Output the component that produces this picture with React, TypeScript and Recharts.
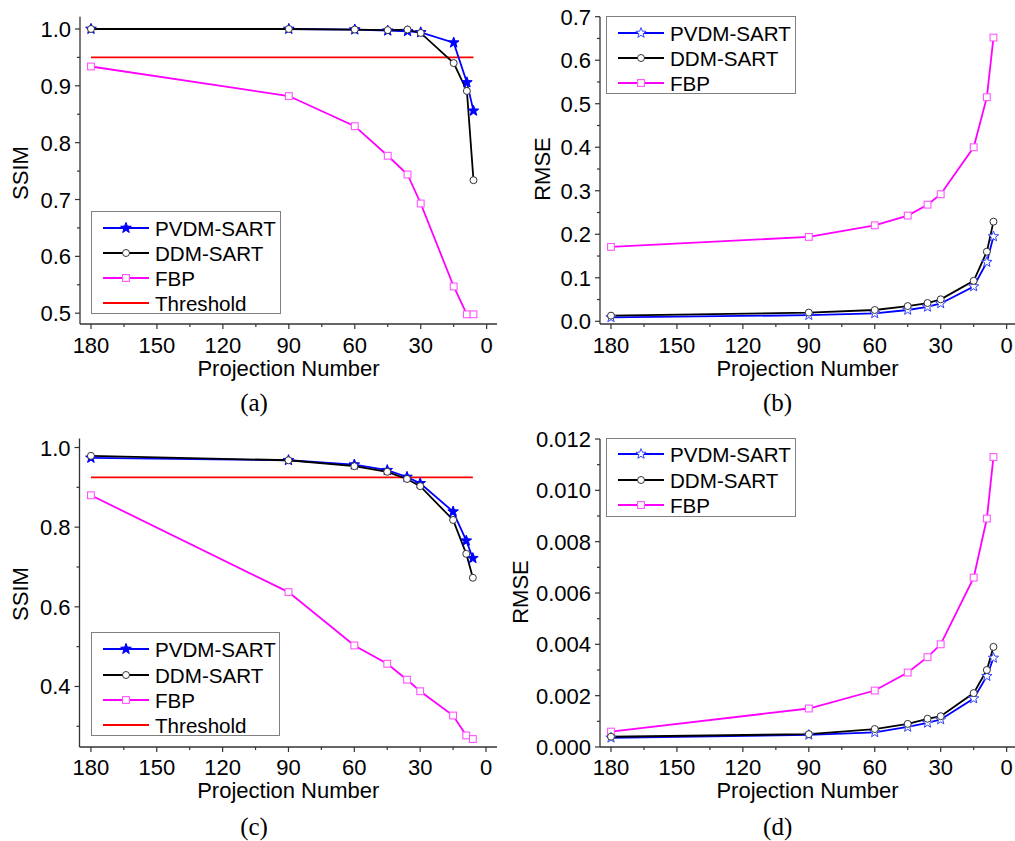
import { LineChart, Line, XAxis, YAxis } from "recharts";

const projections = [180, 90, 60, 45, 36, 30, 15, 9, 6];

// (a) SSIM
const ssimA_pvdm = [1.0, 1.0, 0.999, 0.997, 0.996, 0.994, 0.976, 0.906, 0.856];
const ssimA_ddm = [1.0, 1.0, 0.999, 0.998, 0.999, 0.993, 0.94, 0.891, 0.734];
const ssimA_fbp = [0.934, 0.882, 0.829, 0.777, 0.744, 0.693, 0.547, 0.498, 0.498];
const ssimA_threshold = [0.95, 0.95, 0.95, 0.95, 0.95, 0.95, 0.95, 0.95, 0.95];

// (b) RMSE
const rmseB_pvdm = [0.009, 0.014, 0.018, 0.026, 0.033, 0.041, 0.08, 0.136, 0.195];
const rmseB_ddm = [0.013, 0.02, 0.026, 0.035, 0.042, 0.0505, 0.093, 0.16, 0.229];
const rmseB_fbp = [0.171, 0.194, 0.2205, 0.243, 0.268, 0.292, 0.4, 0.515, 0.652];

// (c) SSIM
const ssimC_pvdm = [0.974, 0.968, 0.957, 0.943, 0.926, 0.91, 0.839, 0.766, 0.722];
const ssimC_ddm = [0.979, 0.968, 0.953, 0.939, 0.921, 0.903, 0.818, 0.733, 0.673];
const ssimC_fbp = [0.88, 0.637, 0.503, 0.457, 0.417, 0.388, 0.327, 0.277, 0.268];
const ssimC_threshold = [0.925, 0.925, 0.925, 0.925, 0.925, 0.925, 0.925, 0.925, 0.925];

// (d) RMSE
const rmseD_pvdm = [0.00036, 0.00047, 0.00057, 0.00078, 0.00094, 0.00107, 0.00189, 0.00276, 0.00347];
const rmseD_ddm = [0.0004, 0.0005, 0.0007, 0.0009, 0.0011, 0.0012, 0.0021, 0.003, 0.0039];
const rmseD_fbp = [0.0006, 0.0015, 0.0022, 0.0029, 0.0035, 0.004, 0.0066, 0.0089, 0.0113];

const xTicks = [180, 165, 150, 135, 120, 105, 90, 75, 60, 45, 30, 15, 0];
const xLabels = [180, 150, 120, 90, 60, 30, 0];

const yTicksA = [0.5, 0.55, 0.6, 0.65, 0.7, 0.75, 0.8, 0.85, 0.9, 0.95, 1.0];
const yLabelsA = [0.5, 0.6, 0.7, 0.8, 0.9, 1.0];
const yTicksB = [0, 0.05, 0.1, 0.15, 0.2, 0.25, 0.3, 0.35, 0.4, 0.45, 0.5, 0.55, 0.6, 0.65, 0.7];
const yLabelsB = [0, 0.1, 0.2, 0.3, 0.4, 0.5, 0.6, 0.7];
const yTicksC = [0.3, 0.4, 0.5, 0.6, 0.7, 0.8, 0.9, 1.0];
const yLabelsC = [0.4, 0.6, 0.8, 1.0];
const yTicksD = [0, 0.001, 0.002, 0.003, 0.004, 0.005, 0.006, 0.007, 0.008, 0.009, 0.01, 0.011, 0.012];
const yLabelsD = [0, 0.002, 0.004, 0.006, 0.008, 0.01, 0.012];

const FONT = "'Liberation Sans', Arial, sans-serif";
const AXIS = "#333";
const BLUE = "#0000ff";
const BLACK = "#000000";
const MAGENTA = "#ff00ff";
const RED = "#ff0000";
const FS = 22;

const isIn = (list: number[], v: number) => list.some((m) => Math.abs(m - v) < 1e-9);

function starPath(cx: number, cy: number, R: number) {
  const r = R * 0.42;
  let d = "";
  for (let i = 0; i < 10; i++) {
    const rad = i % 2 === 0 ? R : r;
    const a = -Math.PI / 2 + (i * Math.PI) / 5;
    d += (i === 0 ? "M" : "L") + (cx + rad * Math.cos(a)).toFixed(2) + "," + (cy + rad * Math.sin(a)).toFixed(2);
  }
  return d + "Z";
}

function Star({ cx, cy, filled }: any) {
  return (
    <path
      d={starPath(cx, cy, filled ? 5.6 : 5.4)}
      fill={filled ? BLUE : "#fff"}
      stroke={filled ? BLUE : "#3344ff"}
      strokeWidth={1}
    />
  );
}

function Circle({ cx, cy }: any) {
  return <circle cx={cx} cy={cy} r={3.5} fill="#fff" stroke="#333" strokeWidth={1} />;
}

function Square({ cx, cy }: any) {
  return <rect x={cx - 3.4} y={cy - 3.4} width={6.8} height={6.8} fill="#fff" stroke="#ff55ff" strokeWidth={1.1} />;
}

function XTick({ x, y, payload, dy }: any) {
  const major = isIn(xLabels, payload.value);
  return (
    <g>
      <line x1={x} y1={y} x2={x} y2={y + (major ? 5 : 3)} stroke={AXIS} strokeWidth={1.2} />
      {major && (
        <text x={x} y={y + dy} textAnchor="middle" fontSize={FS} fontFamily={FONT} fill="#000">
          {payload.value}
        </text>
      )}
    </g>
  );
}

function YTick({ x, y, payload, labels, digits }: any) {
  const major = isIn(labels, payload.value);
  return (
    <g>
      <line x1={x} y1={y} x2={x - (major ? 5 : 3)} y2={y} stroke={AXIS} strokeWidth={1.2} />
      {major && (
        <text x={x - 9} y={y + 8} textAnchor="end" fontSize={FS} fontFamily={FONT} fill="#000">
          {payload.value.toFixed(digits)}
        </text>
      )}
    </g>
  );
}

function Legend({ box, rows, filledStar }: any) {
  const items = [
    { name: "PVDM-SART", color: BLUE, mark: "star" },
    { name: "DDM-SART", color: BLACK, mark: "circle" },
    { name: "FBP", color: MAGENTA, mark: "square" },
    { name: "Threshold", color: RED, mark: "none" },
  ].slice(0, rows.length);
  return (
    <div
      style={{
        position: "absolute",
        left: box.left,
        top: box.top,
        width: box.width,
        height: box.height,
        border: "1px solid #808080",
        background: "#fff",
        boxSizing: "border-box",
      }}
    >
      <svg width={box.width - 2} height={box.height - 2} style={{ display: "block" }}>
        {items.map((it, i) => {
          const cy = rows[i];
          return (
            <g key={it.name}>
              <line x1={11} y1={cy} x2={57} y2={cy} stroke={it.color} strokeWidth={1.8} />
              {it.mark === "star" && <Star cx={34} cy={cy} filled={filledStar} />}
              {it.mark === "circle" && <Circle cx={34} cy={cy} />}
              {it.mark === "square" && <Square cx={34} cy={cy} />}
              <text x={63} y={cy + 7.5} fontSize={20.6} fontFamily={FONT} fill="#000">
                {it.name}
              </text>
            </g>
          );
        })}
      </svg>
    </div>
  );
}

function Panel({ cfg }: any) {
  const data = projections.map((n, i) => ({
    n,
    pvdm: cfg.pvdm[i],
    ddm: cfg.ddm[i],
    fbp: cfg.fbp[i],
    threshold: cfg.threshold ? cfg.threshold[i] : undefined,
  }));
  const filled = cfg.filledStar;
  return (
    <div style={{ position: "absolute", left: cfg.left, top: cfg.top, width: cfg.width, height: cfg.height }}>
      <LineChart
        width={cfg.width}
        height={cfg.height}
        data={data}
        margin={{ top: cfg.plotTop, right: cfg.marginRight, left: 0, bottom: 0 }}
      >
        <XAxis
          type="number"
          dataKey="n"
          domain={cfg.xDomain}
          reversed
          allowDataOverflow
          ticks={xTicks}
          interval={0}
          tickSize={0}
          tickMargin={0}
          tickLine={false}
          axisLine={{ stroke: AXIS, strokeWidth: 1.3 }}
          tick={(p: any) => <XTick key={"x" + p.index} {...p} dy={cfg.xTickDy} />}
          height={cfg.xAxisHeight}
          label={{ value: "Projection Number", position: "insideBottom", offset: cfg.xTitleOffset, fontSize: FS, fontFamily: FONT, fill: "#000" }}
        />
        <YAxis
          type="number"
          domain={cfg.yDomain}
          allowDataOverflow
          ticks={cfg.yTicks}
          interval={0}
          tickSize={0}
          tickMargin={0}
          tickLine={false}
          axisLine={{ stroke: AXIS, strokeWidth: 1.3 }}
          tick={(p: any) => <YTick key={"y" + p.index} {...p} labels={cfg.yLabels} digits={cfg.digits} />}
          width={cfg.yAxisWidth}
        />
        {cfg.threshold && (
          <Line type="linear" dataKey="threshold" stroke={RED} strokeWidth={1.6} dot={false} isAnimationActive={false} />
        )}
        <Line
          type="linear"
          dataKey="fbp"
          stroke={MAGENTA}
          strokeWidth={1.8}
          dot={(p: any) => <Square key={"s" + p.index} cx={p.cx} cy={p.cy} />}
          isAnimationActive={false}
        />
        <Line
          type="linear"
          dataKey="pvdm"
          stroke={BLUE}
          strokeWidth={1.8}
          dot={(p: any) => <Star key={"t" + p.index} cx={p.cx} cy={p.cy} filled={filled} />}
          isAnimationActive={false}
        />
        <Line
          type="linear"
          dataKey="ddm"
          stroke={BLACK}
          strokeWidth={1.8}
          dot={(p: any) => <Circle key={"c" + p.index} cx={p.cx} cy={p.cy} />}
          isAnimationActive={false}
        />
      </LineChart>
      <div
        style={{
          position: "absolute",
          left: cfg.yTitle.x,
          top: cfg.yTitle.y,
          transform: "translate(-50%, -50%) rotate(-90deg)",
          fontFamily: FONT,
          fontSize: FS,
          whiteSpace: "nowrap",
          lineHeight: 1,
        }}
      >
        {cfg.yTitleText}
      </div>
      <div
        style={{
          position: "absolute",
          left: cfg.caption.x,
          top: cfg.caption.y,
          transform: "translate(-50%, -50%)",
          fontFamily: "'Liberation Serif', 'Times New Roman', serif",
          fontSize: 25,
          whiteSpace: "nowrap",
          lineHeight: 1,
        }}
      >
        {cfg.captionText}
      </div>
      <Legend box={cfg.legend} rows={cfg.legendRows} filledStar={filled} />
    </div>
  );
}

const panels = [
  {
    left: 0, top: 0, width: 500, height: 420,
    plotTop: 16.7, marginRight: 3, yAxisWidth: 80, xAxisHeight: 96, xTitleOffset: 44, xTickDy: 29,
    xDomain: [-4.7, 185], yDomain: [0.481, 1.0216], yTicks: yTicksA, yLabels: yLabelsA, digits: 1,
    pvdm: ssimA_pvdm, ddm: ssimA_ddm, fbp: ssimA_fbp, threshold: ssimA_threshold, filledStar: true,
    yTitleText: "SSIM", yTitle: { x: 21, y: 172.5 }, captionText: "(a)", caption: { x: 254, y: 402 },
    legend: { left: 91, top: 211, width: 190, height: 103 }, legendRows: [16, 41, 66, 91],
  },
  {
    left: 500, top: 0, width: 515, height: 420,
    plotTop: 16.7, marginRight: 0, yAxisWidth: 100, xAxisHeight: 96, xTitleOffset: 44, xTickDy: 29,
    xDomain: [-3.8, 185], yDomain: [-0.0062, 0.7], yTicks: yTicksB, yLabels: yLabelsB, digits: 1,
    pvdm: rmseB_pvdm, ddm: rmseB_ddm, fbp: rmseB_fbp, threshold: null, filledStar: false,
    yTitleText: "RMSE", yTitle: { x: 42.5, y: 169 }, captionText: "(b)", caption: { x: 277.5, y: 402 },
    legend: { left: 106, top: 16, width: 190, height: 78 }, legendRows: [16, 41, 66],
  },
  {
    left: 0, top: 420, width: 500, height: 421,
    plotTop: 18.5, marginRight: 3, yAxisWidth: 79.5, xAxisHeight: 94, xTitleOffset: 43, xTickDy: 28,
    xDomain: [-5, 185.2], yDomain: [0.248, 1.0226], yTicks: yTicksC, yLabels: yLabelsC, digits: 1,
    pvdm: ssimC_pvdm, ddm: ssimC_ddm, fbp: ssimC_fbp, threshold: ssimC_threshold, filledStar: true,
    yTitleText: "SSIM", yTitle: { x: 21, y: 174 }, captionText: "(c)", caption: { x: 254, y: 406 },
    legend: { left: 91, top: 212, width: 189, height: 104 }, legendRows: [16, 42, 67, 92],
  },
  {
    left: 500, top: 420, width: 515, height: 421,
    plotTop: 19, marginRight: 0, yAxisWidth: 100, xAxisHeight: 94, xTitleOffset: 43, xTickDy: 28,
    xDomain: [-3.8, 185], yDomain: [0, 0.012], yTicks: yTicksD, yLabels: yLabelsD, digits: 3,
    pvdm: rmseD_pvdm, ddm: rmseD_ddm, fbp: rmseD_fbp, threshold: null, filledStar: false,
    yTitleText: "RMSE", yTitle: { x: 20.5, y: 171.7 }, captionText: "(d)", caption: { x: 277.7, y: 406 },
    legend: { left: 106, top: 18, width: 190, height: 79 }, legendRows: [15, 41, 66],
  },
];

export default function App() {
  return (
    <div style={{ position: "relative", width: 1015, height: 841, background: "#fff", overflow: "hidden" }}>
      <style>{"body{margin:0;}"}</style>
      {panels.map((cfg, i) => (
        <Panel key={i} cfg={cfg} />
      ))}
    </div>
  );
}
